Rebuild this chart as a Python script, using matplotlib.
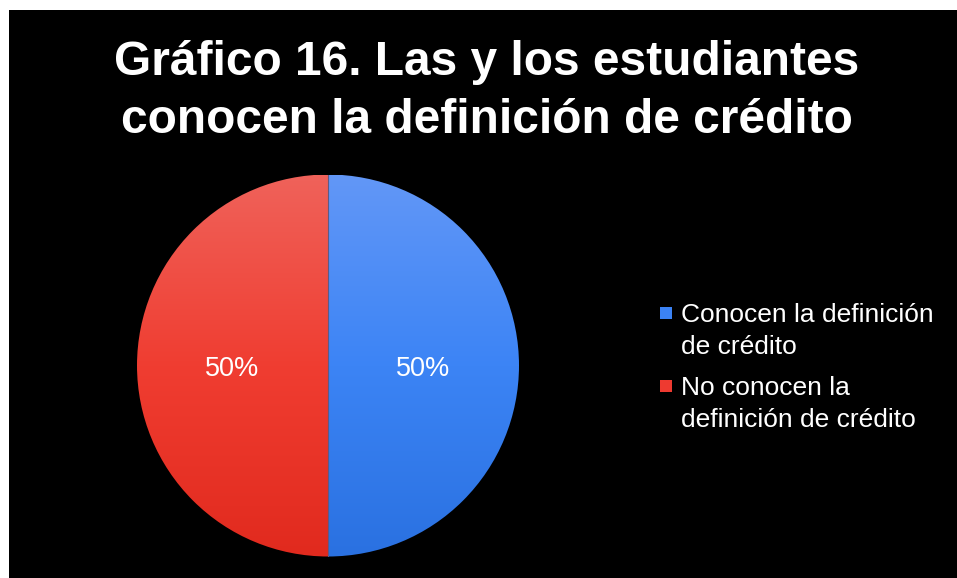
import numpy as np
import matplotlib
matplotlib.use("Agg")
import matplotlib.pyplot as plt
from matplotlib.patches import Rectangle
from matplotlib.colors import LinearSegmentedColormap

plt.rcParams['font.family'] = ['Liberation Sans', 'DejaVu Sans']

# Data
categories = ["Conocen la definición\nde crédito", "No conocen la\ndefinición de crédito"]
values = [50, 50]
pct_labels = ["50%", "50%"]
title_lines = ["Gráfico 16. Las y los estudiantes", "conocen la definición de crédito"]

# Vertical gradient stops per slice (bottom, middle, top)
grad_colors = [("#2A71E1", "#3C84F5", "#6297F7"),
               ("#E12A1E", "#F03D31", "#EF625A")]
legend_colors = ["#3B82F4", "#EE3A30"]

W, H = 957, 578
fig = plt.figure(figsize=(W / 100, H / 100), dpi=100)
fig.patch.set_facecolor("white")

# Black chart area with a thin white margin on the top and left
bg = fig.add_axes([0, 0, 1, 1])
bg.set_xlim(0, W)
bg.set_ylim(H, 0)
bg.axis("off")
bg.add_patch(Rectangle((9, 10), W - 9, H - 10, facecolor="black", edgecolor="none"))

# Pie axes placed in pixel units
cx, cy, r = 328, 365.5, 191
ax = fig.add_axes([(cx - r) / W, 1 - (cy + r) / H, 2 * r / W, 2 * r / H])
ax.set_xlim(-1, 1)
ax.set_ylim(-1, 1)
ax.set_aspect("equal")
ax.axis("off")

wedges, texts = ax.pie(values, startangle=90, counterclock=False, radius=1,
                       center=(0, 0), wedgeprops=dict(linewidth=0))
for w, stops in zip(wedges, grad_colors):
    w.set_facecolor("none")
    cmap = LinearSegmentedColormap.from_list("g", list(stops))
    grad = np.linspace(0, 1, 256).reshape(-1, 1)
    im = ax.imshow(grad, cmap=cmap, extent=(-1, 1, -1, 1), origin="lower",
                   aspect="auto", zorder=1)
    im.set_clip_path(w)
# thin seam between slices
ax.plot([0, 0], [-1, 1], color="#5E5A86", lw=0.8, zorder=2)
ax.set_xlim(-1, 1)
ax.set_ylim(-1, 1)

# Percentage labels at the middle of each slice
angles = []
start = 90.0
total = sum(values)
for v in values:
    span = 360.0 * v / total
    angles.append(np.deg2rad(start - span / 2))
    start -= span
for a, lab in zip(angles, pct_labels):
    ax.text(0.5 * np.cos(a), 0.5 * np.sin(a) - 0.02, lab, color="white",
            fontsize=19.5, ha="center", va="center", zorder=3)

# Title, one line at a time (baseline positions)
for yy, line in zip([75, 133], title_lines):
    bg.text(487, yy, line, color="white", fontsize=34.5, fontweight="bold",
            ha="center", va="baseline")

# Legend
leg_y = [313, 386]
for c, lab, y in zip(legend_colors, categories, leg_y):
    bg.add_patch(Rectangle((660, y - 6), 12, 12, facecolor=c, edgecolor="none"))
    for k, part in enumerate(lab.split("\n")):
        bg.text(681, y + 9 + 32 * k, part, color="white", fontsize=19,
                ha="left", va="baseline")

fig.savefig("out.png", dpi=100, facecolor=fig.get_facecolor())
